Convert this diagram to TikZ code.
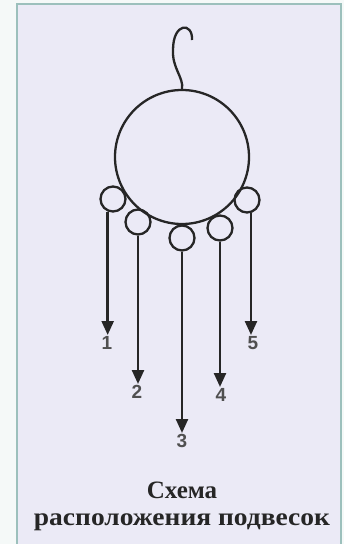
\documentclass[tikz,border=0pt]{standalone}
\usepackage{fontspec}
\setmainfont{Liberation Serif}
\newfontfamily\numfont{Liberation Sans}
\usepackage{tikz}
\usetikzlibrary{arrows.meta,positioning,calc}
\definecolor{PanelLilac}{HTML}{EBEAF6}
\definecolor{FrameTeal}{HTML}{9CC0BC}
\definecolor{InkGray}{HTML}{262626}
\definecolor{NumGray}{HTML}{505050}

\begin{document}
\begin{tikzpicture}[
    x=1pt, y=-1pt,
    wire/.style={draw=InkGray, line width=2.3pt},
    hoop/.style={wire, circle, minimum size=134pt, inner sep=0pt},
    ring/.style={wire, circle, minimum size=25pt, inner sep=0pt},
    num/.style={font=\numfont\bfseries\fontsize{19}{19}\selectfont, text=NumGray, inner sep=1pt, anchor=north},
    title/.style={font=\bfseries\fontsize{25}{27}\selectfont, text=InkGray, align=center},
    arr/.style={draw=InkGray, line width=2.4pt, -{Triangle[length=14pt,width=12pt]}}
]
\useasboundingbox (0,0) rectangle (344,544);
\fill[white!90!FrameTeal] (0,0) rectangle (344,544);
\draw[FrameTeal, line width=1.5pt, fill=PanelLilac] (17,4) rectangle (341,546);

% pendant frame
\node[hoop] (big) at (182,157) {};
\draw[wire] (big.north) .. controls (184,78) and (172,68) .. (173,50)
    .. controls (173,22) and (193,22) .. (192,40);

% small rings
\node[ring] (r1) at (113,199) {};
\node[ring] (r2) at (138,222) {};
\node[ring] (r3) at (182,238) {};
\node[ring] (r4) at (220,228) {};
\node[ring] (r5) at (247,200) {};

% labels
\node[num] (n1) at (107,335) {1};
\node[num] (n2) at (137,384) {2};
\node[num] (n3) at (182,433) {3};
\node[num] (n4) at (221,387) {4};
\node[num] (n5) at (253,335) {5};

\foreach \r/\a/\n in {r1/247/n1,r2/270/n2,r3/270/n3,r4/270/n4,r5/287/n5}{\draw[arr] (\r.\a) -- (\r.\a |- \n.north);}

\node[title] (cap) at (182,506) {Схема\\\scalebox{1.1}[1]{расположения подвесок}};
\end{tikzpicture}
\end{document}
